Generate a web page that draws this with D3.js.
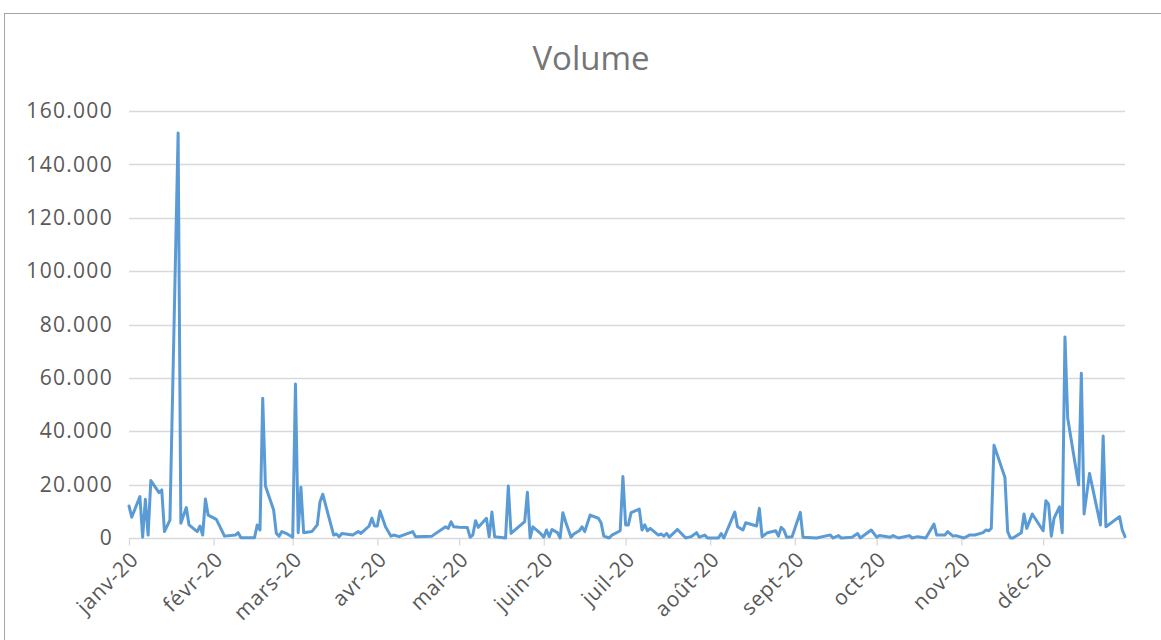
<!DOCTYPE html>
<html>
<head>
<meta charset="utf-8">
<script src="https://cdn.jsdelivr.net/npm/d3@7"></script>
<style>
  html, body { margin: 0; padding: 0; background: #fff; }
  svg { display: block; }
  text { font-family: "Open Sans", "Liberation Sans", sans-serif; }
</style>
</head>
<body>
<svg id="chart" width="1161" height="640"></svg>
<script>
// ---- data ----
const title = "Volume";
const dates = [
  "2020-01-01","2020-01-02","2020-01-05","2020-01-06","2020-01-07","2020-01-08","2020-01-09","2020-01-11","2020-01-12","2020-01-13",
  "2020-01-14","2020-01-16","2020-01-19","2020-01-20","2020-01-22","2020-01-23","2020-01-26","2020-01-27","2020-01-28","2020-01-29",
  "2020-01-30","2020-02-02","2020-02-03","2020-02-05","2020-02-09","2020-02-10","2020-02-11","2020-02-16","2020-02-17","2020-02-18",
  "2020-02-19","2020-02-20","2020-02-23","2020-02-24","2020-02-25","2020-02-26","2020-02-28","2020-03-01","2020-03-02","2020-03-03",
  "2020-03-04","2020-03-05","2020-03-08","2020-03-10","2020-03-11","2020-03-12","2020-03-16","2020-03-17","2020-03-18","2020-03-19",
  "2020-03-23","2020-03-25","2020-03-26","2020-03-29","2020-03-30","2020-03-31","2020-04-01","2020-04-02","2020-04-04","2020-04-06",
  "2020-04-07","2020-04-09","2020-04-14","2020-04-15","2020-04-21","2020-04-26","2020-04-27","2020-04-28","2020-04-29","2020-05-01",
  "2020-05-04","2020-05-05","2020-05-06","2020-05-07","2020-05-08","2020-05-11","2020-05-12","2020-05-13","2020-05-14","2020-05-18",
  "2020-05-19","2020-05-20","2020-05-25","2020-05-26","2020-05-27","2020-05-28","2020-05-31","2020-06-01","2020-06-02","2020-06-03",
  "2020-06-04","2020-06-06","2020-06-07","2020-06-08","2020-06-09","2020-06-11","2020-06-12","2020-06-14","2020-06-15","2020-06-16",
  "2020-06-18","2020-06-21","2020-06-22","2020-06-23","2020-06-25","2020-06-26","2020-06-29","2020-06-30","2020-07-01","2020-07-02",
  "2020-07-03","2020-07-06","2020-07-07","2020-07-08","2020-07-09","2020-07-10","2020-07-13","2020-07-14","2020-07-15","2020-07-16",
  "2020-07-17","2020-07-20","2020-07-23","2020-07-25","2020-07-27","2020-07-28","2020-07-30","2020-07-31","2020-08-04","2020-08-05",
  "2020-08-06","2020-08-10","2020-08-11","2020-08-13","2020-08-14","2020-08-18","2020-08-19","2020-08-20","2020-08-22","2020-08-25",
  "2020-08-26","2020-08-27","2020-08-28","2020-08-29","2020-08-31","2020-09-03","2020-09-04","2020-09-09","2020-09-12","2020-09-14",
  "2020-09-15","2020-09-17","2020-09-18","2020-09-22","2020-09-24","2020-09-25","2020-09-29","2020-10-01","2020-10-02","2020-10-06",
  "2020-10-07","2020-10-09","2020-10-13","2020-10-14","2020-10-16","2020-10-19","2020-10-22","2020-10-23","2020-10-26","2020-10-27",
  "2020-10-29","2020-10-30","2020-11-02","2020-11-04","2020-11-06","2020-11-09","2020-11-10","2020-11-11","2020-11-12","2020-11-13",
  "2020-11-17","2020-11-18","2020-11-19","2020-11-20","2020-11-23","2020-11-24","2020-11-25","2020-11-27","2020-12-01","2020-12-02",
  "2020-12-03","2020-12-04","2020-12-05","2020-12-07","2020-12-08","2020-12-09","2020-12-10","2020-12-12","2020-12-14","2020-12-15",
  "2020-12-16","2020-12-18","2020-12-22","2020-12-23","2020-12-24","2020-12-29","2020-12-30","2020-12-31"
];
const volumes = [
  12000,7800,15500,300,14500,1100,21500,18500,17000,18000,
  2400,6700,151800,5500,11400,4900,2400,4500,1100,14600,
  8600,7000,4900,700,1100,2000,100,100,4900,3000,
  52400,19500,10500,1700,700,2400,1500,300,57700,2000,
  19000,2000,2400,4900,13600,16400,1100,1500,500,1700,
  1100,2400,1700,4500,7400,4500,4500,10100,4200,700,
  1100,500,2400,500,700,4200,3600,6100,4200,4000,
  3900,300,1100,6500,4000,7400,500,9700,500,0,
  19500,1700,6100,17100,0,4200,1500,300,3000,500,
  3200,2000,0,9500,6100,300,1500,2700,4200,2400,
  8600,7400,5700,700,0,1100,2700,23000,4900,4900,
  9500,10800,3000,4900,2700,3600,1100,1500,700,1700,
  300,3200,0,500,2000,300,1100,0,0,1700,
  0,9700,4200,3000,5700,4500,11100,500,2000,2700,
  700,4000,3000,300,500,9600,300,0,700,1100,
  0,900,0,300,1700,0,3000,300,900,300,
  900,0,900,0,500,0,5200,1100,1100,2400,
  700,900,0,1100,1100,2000,3000,2700,3600,34800,
  22700,2400,0,0,2000,9000,3600,9000,2700,14000,
  12700,700,7400,11700,2000,75300,45000,32300,19900,61700,
  9000,24200,4900,38200,4200,8000,3000,500
];
const yTicks = [0, 20000, 40000, 60000, 80000, 100000, 120000, 140000, 160000];
const monthStarts = ["2020-01-01","2020-02-01","2020-03-01","2020-04-01","2020-05-01","2020-06-01",
                     "2020-07-01","2020-08-01","2020-09-01","2020-10-01","2020-11-01","2020-12-01"];
const monthLabels = ["janv-20","févr-20","mars-20","avr-20","mai-20","juin-20",
                     "juil-20","août-20","sept-20","oct-20","nov-20","déc-20"];
const xDomain = ["2020-01-01", "2020-12-31"];

// ---- chart ----
const parse = d3.utcParse("%Y-%m-%d");
const data = dates.map((d, i) => ({ date: parse(d), value: volumes[i] }));

const svg = d3.select("#chart");
const W = 1161, H = 640;
const plot = { left: 129, right: 1125, top: 111, bottom: 538 };

// outer chart border
svg.append("rect")
  .attr("x", 4.5).attr("y", 13.5)
  .attr("width", W + 20).attr("height", H + 20)
  .attr("fill", "#fff").attr("stroke", "#a6a6a6").attr("stroke-width", 1);

const x = d3.scaleUtc().domain(xDomain.map(parse)).range([plot.left, plot.right]);
const y = d3.scaleLinear().domain([0, 160000]).range([plot.bottom, plot.top]);

const fr = d3.formatLocale({ decimal: ",", thousands: ".", grouping: [3], currency: ["", " €"] });
const fmt = fr.format(",d");

// gridlines
svg.append("g")
  .selectAll("line")
  .data(yTicks.filter(t => t > 0))
  .join("line")
  .attr("x1", plot.left).attr("x2", plot.right)
  .attr("y1", d => Math.round(y(d)) + 0.5).attr("y2", d => Math.round(y(d)) + 0.5)
  .attr("stroke", "#d9d9d9").attr("stroke-width", 1.3);

// y axis labels
const yAxis = d3.axisLeft(y).tickValues(yTicks).tickFormat(fmt).tickSize(0).tickPadding(16);
const gy = svg.append("g").attr("transform", `translate(${plot.left},0)`).call(yAxis);
gy.select(".domain").remove();
gy.selectAll("text").attr("fill", "#595959").style("font-size", "21px")
  .style("letter-spacing", "1.3px")
  .style("font-family", '"Open Sans", sans-serif');

// x axis
const xAxis = d3.axisBottom(x)
  .tickValues(monthStarts.map(parse))
  .tickFormat((d, i) => monthLabels[i])
  .tickSizeInner(7).tickSizeOuter(0);
const gx = svg.append("g").attr("transform", `translate(0,${plot.bottom + 0.5})`).call(xAxis);
gx.select(".domain").attr("stroke", "#d9d9d9").attr("stroke-width", 1.3)
  .attr("d", `M${plot.left},0H${plot.right}`);
gx.selectAll(".tick line").attr("stroke", "#d9d9d9").attr("stroke-width", 1.3);
gx.selectAll("text")
  .attr("fill", "#595959").style("font-size", "21px")
  .style("letter-spacing", "0.8px")
  .style("font-family", '"Open Sans", sans-serif')
  .attr("text-anchor", "end")
  .attr("dy", "0.35em")
  .attr("transform", "translate(5,17) rotate(-45)")
  .attr("x", 0).attr("y", 0);

// line
const line = d3.line().x(d => x(d.date)).y(d => y(d.value));
svg.append("path")
  .datum(data)
  .attr("fill", "none")
  .attr("stroke", "#5b9bd5")
  .attr("stroke-width", 3)
  .attr("stroke-linejoin", "round")
  .attr("stroke-linecap", "round")
  .attr("d", line);

// title
svg.append("text")
  .attr("x", 591).attr("y", 70)
  .attr("text-anchor", "middle")
  .attr("fill", "#757575")
  .style("font-size", "33px")
  .text(title);
</script>
</body>
</html>
